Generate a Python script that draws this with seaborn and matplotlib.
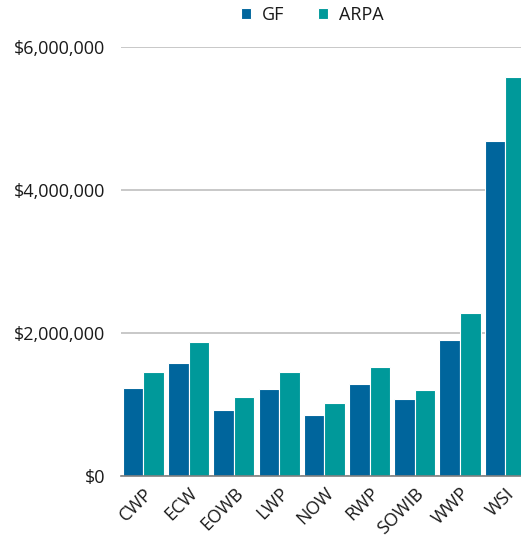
import pandas as pd
import matplotlib
matplotlib.use('Agg')
import matplotlib.pyplot as plt
import seaborn as sns
from matplotlib.ticker import FuncFormatter

# ---------- DATA ----------
categories = ['CWP', 'ECW', 'EOWB', 'LWP', 'NOW', 'RWP', 'SOWIB', 'WWP', 'WSI']
gf_values = [1224000, 1581000, 921000, 1214000, 856000, 1280000, 1079000, 1908000, 4690000]
arpa_values = [1461000, 1880000, 1098000, 1451000, 1014000, 1526000, 1205000, 2275000, 5585000]
series_names = ['GF', 'ARPA']
series_colors = ['#00659c', '#00999a']

df = pd.DataFrame({
    'Program': categories * 2,
    'Fund': [series_names[0]] * len(categories) + [series_names[1]] * len(categories),
    'Amount': gf_values + arpa_values,
})

# ---------- PLOT ----------
sns.set_style('white')
plt.rcParams['font.family'] = ['Open Sans', 'DejaVu Sans']

fig = plt.figure(figsize=(5.21, 5.43), dpi=100)
ax = fig.add_axes([0.232, 0.1234, 0.781, 0.790])

sns.barplot(data=df, x='Program', y='Amount', hue='Fund', palette=series_colors,
            saturation=1, width=0.91, edgecolor='white', linewidth=0.8, ax=ax)

ax.set_ylim(0, 6000000)
ax.set_yticks([0, 2000000, 4000000, 6000000])
ax.yaxis.set_major_formatter(FuncFormatter(lambda v, p: f"${v:,.0f}"))
ax.yaxis.grid(True, color='#bfbfbf', linewidth=1.2)
ax.set_axisbelow(True)
ax.set_xlim(-0.5, len(categories) - 0.5)

for s in ['top', 'right', 'left']:
    ax.spines[s].set_visible(False)
ax.spines['bottom'].set_color('#7f7f7f')
ax.spines['bottom'].set_linewidth(1.2)

ax.set_xlabel('')
ax.set_ylabel('')
ax.tick_params(axis='y', labelsize=13, colors='#1a1a1a', length=0, pad=11)
ax.tick_params(axis='x', labelsize=13, colors='#1a1a1a', length=0, pad=6)
for lbl in ax.get_xticklabels():
    lbl.set_rotation(45)
    lbl.set_horizontalalignment('right')
    lbl.set_rotation_mode('anchor')

sns.move_legend(ax, 'center', bbox_to_anchor=(0.599, 0.972), bbox_transform=fig.transFigure,
                ncol=2, frameon=False, title=None, fontsize=13,
                handlelength=0.55, handleheight=0.55, handletextpad=0.6, columnspacing=1.9)
for t in ax.get_legend().get_texts():
    t.set_color('#1a1a1a')

fig.savefig('out.png', dpi=100)
